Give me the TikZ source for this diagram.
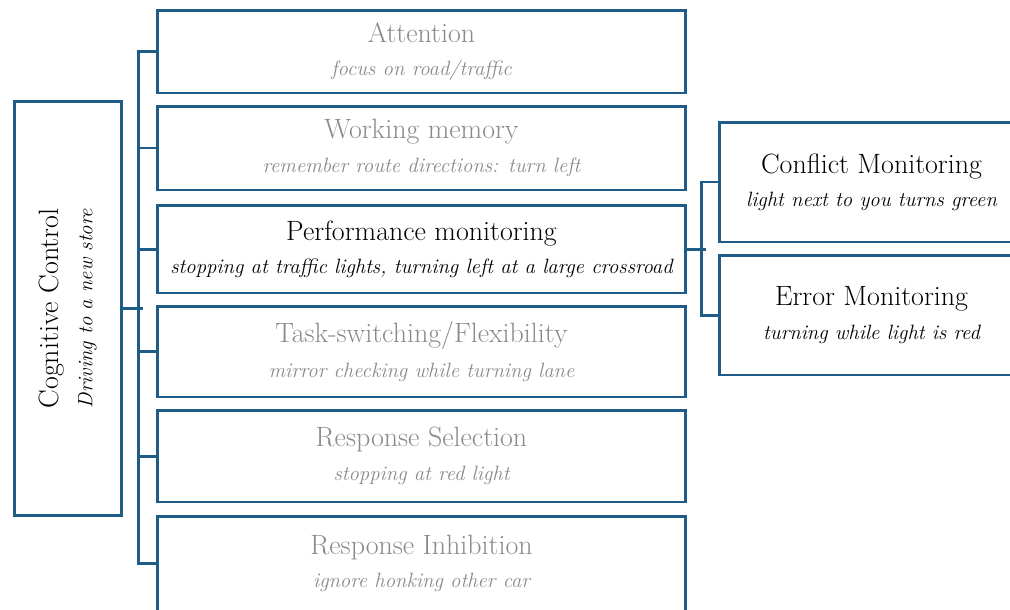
\documentclass[tikz,border=0pt]{standalone}
\usepackage{tikz}
\usetikzlibrary{positioning,calc}
\usepackage{xcolor}
\definecolor{ctblue}{HTML}{1F5C87}
\definecolor{dimgray}{HTML}{8A8A8A}
\newcommand{\tfont}{\fontsize{15.9}{18}\selectfont}
\newcommand{\sfont}{\fontsize{11.8}{13}\selectfont\itshape}

\begin{document}
\begin{tikzpicture}[x=0.02cm,y=-0.02cm,
  catbox/.style={draw=ctblue, line width=1.7pt, fill=white, align=center,
    inner sep=0pt, minimum width=10.58cm},
  subbox/.style={draw=ctblue, line width=1.7pt, fill=white, align=center,
    inner sep=0pt, minimum width=6.1cm, minimum height=2.4cm},
  link/.style={draw=ctblue, line width=1.7pt, line cap=rect}]
  \useasboundingbox (0,0) rectangle (1010,609);
  \clip (0,0) rectangle (1010,609);
  % ROOT: rotated label box on the left
  \node[draw=ctblue, line width=1.7pt, minimum width=2.16cm, minimum height=8.3cm] (cog) at (68,308.5) {};
  \node[rotate=90, align=center] (cogtext) at (cog.center) {\tfont Cognitive Control\\[7pt]\sfont Driving to a new store};
  % COMPONENTS: stacked boxes, gray unless highlighted
  \node[catbox, minimum height=1.66cm, text=dimgray] (att) at (421.5,51.5)
    {\tfont Attention\\[7pt]\sfont focus on road/traffic};
  \node[catbox, minimum height=1.68cm, text=dimgray] (wm) at (421.5,148)
    {\tfont Working memory\\[7pt]\sfont remember route directions: turn left};
  \node[catbox, minimum height=1.76cm] (perf) at (421.5,249)
    {\tfont Performance monitoring\\[7pt]\sfont stopping at traffic lights, turning left at a large crossroad};
  \node[catbox, minimum height=1.82cm, text=dimgray] (task) at (421.5,351.5)
    {\tfont Task-switching/Flexibility\\[7pt]\sfont mirror checking while turning lane};
  \node[catbox, minimum height=1.84cm, text=dimgray] (sel) at (421.5,456)
    {\tfont Response Selection\\[7pt]\sfont stopping at red light};
  \node[catbox, minimum height=1.9cm, text=dimgray] (inh) at (421.5,563.5)
    {\tfont Response Inhibition\\[7pt]\sfont ignore honking other car};
  % MONITORING: two sub-boxes to the right
  \node[subbox] (conf) at (871.5,182)
    {\tfont Conflict Monitoring\\[7pt]\sfont light next to you turns green};
  \node[subbox] (err) at (871.5,315)
    {\tfont Error Monitoring\\[7pt]\sfont turning while light is red};
  % CONNECTORS
  \draw[link] (cog.east) -- ++(18,0);
  \draw[link] (att.west) -- ++(-17,0) |- (inh.west);
  \foreach \n in {wm,perf,task,sel}
    \draw[link] (\n.west) -- ++(-17,0);
  \draw[link] (perf.east) -- ++(17,0);
  \draw[link] (conf.west) -- ++(-16,0) |- (err.west);
\end{tikzpicture}
\end{document}
